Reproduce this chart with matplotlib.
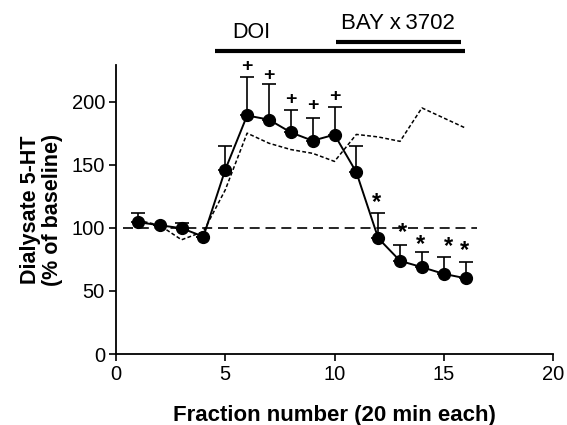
import matplotlib
matplotlib.use("Agg")
import matplotlib.pyplot as plt

plt.rcParams['font.family'] = ['Liberation Sans', 'DejaVu Sans']

fractions = [1, 2, 3, 4, 5, 6, 7, 8, 9, 10, 11, 12, 13, 14, 15, 16]
doi_bay = [104.5, 102, 99.7, 93, 146, 189, 185.7, 175.6, 169, 173.8, 144, 91.8, 73.8, 68.8, 63.5, 60]
doi_bay_err = [7, 0, 4.3, 0, 18.5, 30.5, 28.3, 17.4, 18, 22, 20.5, 19.8, 12.7, 12.2, 13.5, 13]
doi_only = [106, 102, 90.5, 97, 130, 175, 167, 162, 159, 152.6, 174, 172, 168.5, 195, 187, 179]

plus_x = [6, 7, 8, 9, 10]
plus_y = [228, 221, 201.6, 197, 204]
star_x = [11.92, 13.1, 13.93, 15.2, 15.97]
star_y = [120, 96.5, 86.5, 85.5, 82]

fig = plt.figure(figsize=(5.67, 4.25), dpi=100)
ax = fig.add_axes([116/567, 1-354/425, (553-116)/567, (354-65)/425])

ax.plot([0.3, 16.5], [100, 100], color='black', lw=1.2, dashes=(6, 3.5))
ax.plot(fractions, doi_only, color='black', lw=1.1, dashes=(2.5, 1.5))
ax.errorbar(fractions, doi_bay, yerr=[[0]*len(doi_bay_err), doi_bay_err],
            fmt='o-', color='black', ms=8.5, lw=1.4, elinewidth=1.2,
            capsize=5, capthick=1.2)

for x, y in zip(plus_x, plus_y):
    ax.text(x, y, '+', ha='center', va='center', fontsize=14, fontweight='bold', clip_on=False)
for x, y in zip(star_x, star_y):
    ax.text(x, y, '*', ha='center', va='center', fontsize=17, fontweight='bold', clip_on=False)

ax.set_xlim(0, 20)
ax.set_ylim(0, 229)
ax.set_xticks([0, 5, 10, 15, 20])
ax.set_yticks([0, 50, 100, 150, 200])
ax.spines['top'].set_visible(False)
ax.spines['right'].set_visible(False)
for s in ['left', 'bottom']:
    ax.spines[s].set_linewidth(1.3)
ax.tick_params(direction='out', length=5, width=1.2, labelsize=14.5, pad=3)

ax.set_xlabel('Fraction number (20 min each)', fontsize=16, fontweight='bold', labelpad=15)
ax.set_ylabel('Dialysate 5-HT\n(% of baseline)', fontsize=15.5, fontweight='bold', labelpad=6,
              linespacing=1.05)

# treatment bars
ax.plot([4.52, 15.97], [(354-51.7)/1.26, (354-51.7)/1.26], color='black', lw=3, clip_on=False, solid_capstyle='butt')
ax.plot([10.08, 15.78], [(354-42.7)/1.26, (354-42.7)/1.26], color='black', lw=3, clip_on=False, solid_capstyle='butt')
ax.text(6.2, (354-33)/1.26, 'DOI', ha='center', va='center', fontsize=15.5, clip_on=False)
ax.text(12.9, (354-24)/1.26, 'BAY x\u20093702', ha='center', va='center', fontsize=16, clip_on=False)

fig.savefig('out.png', dpi=100)
